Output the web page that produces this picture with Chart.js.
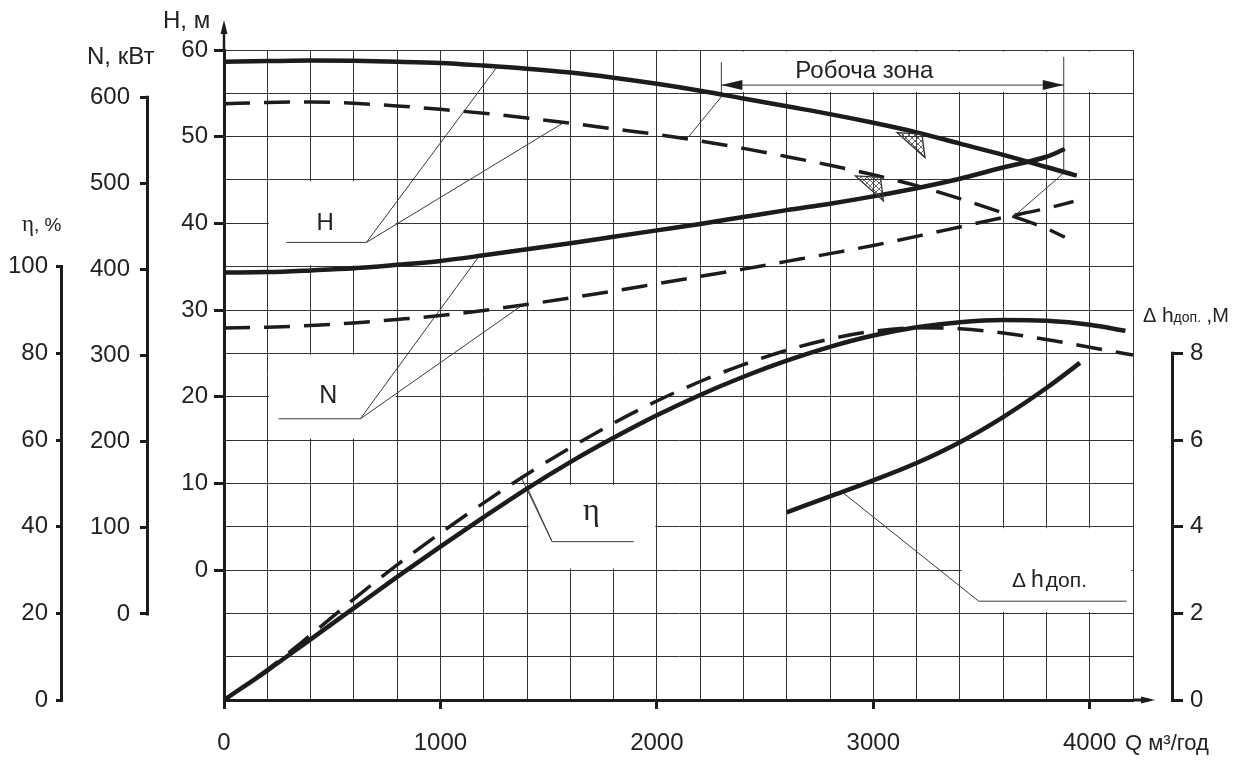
<!DOCTYPE html>
<html lang="uk">
<head>
<meta charset="utf-8">
<title>Характеристика насоса</title>
<script src="https://cdn.jsdelivr.net/npm/chart.js@4.4.1/dist/chart.umd.min.js"></script>
<style>
  html, body { margin: 0; padding: 0; background: #fff; }
  #wrap { width: 1242px; height: 760px; }
</style>
</head>
<body>
<div id="wrap"><canvas id="pump" width="1242" height="760"></canvas></div>
<script>
// Q, м3/год for each curve
const qHeadSolid = [0, 200, 400, 600, 800, 1000, 1200, 1400, 1600, 1800, 2000, 2200, 2400, 2600, 2800, 3000, 3200, 3400, 3600, 3800, 3940];
const headSolid  = [58.65, 58.72, 58.78, 58.75, 58.65, 58.5, 58.2, 57.85, 57.4, 56.8, 56.1, 55.3, 54.4, 53.5, 52.6, 51.6, 50.5, 49.2, 47.9, 46.5, 45.5];

const qHeadDash = [0, 200, 400, 600, 800, 1000, 1200, 1400, 1600, 1800, 2000, 2200, 2400, 2600, 2800, 3000, 3200, 3400, 3600, 3800, 3885];
const headDash  = [53.8, 53.95, 54.0, 53.85, 53.55, 53.15, 52.7, 52.15, 51.55, 50.9, 50.25, 49.5, 48.65, 47.7, 46.7, 45.6, 44.35, 42.85, 41.2, 39.4, 38.4];

const qPowerSolid = [0, 200, 400, 600, 800, 1000, 1200, 1400, 1600, 1800, 2000, 2200, 2400, 2600, 2800, 3000, 3200, 3400, 3600, 3800, 3885];
const powerSolid  = [396.5, 397, 399, 401.5, 405.5, 410, 416.5, 423.5, 430.5, 438, 445.5, 453, 461, 469, 476.5, 485, 494.5, 505.5, 518.5, 531, 540];

const qPowerDash = [0, 200, 400, 600, 800, 1000, 1200, 1400, 1600, 1800, 2000, 2200, 2400, 2600, 2800, 3000, 3200, 3400, 3600, 3800, 3925];
const powerDash  = [332, 333, 335, 338, 342, 346.5, 352.5, 359.5, 367, 375, 383.5, 392, 400.5, 409.5, 418.5, 428, 438.5, 449.5, 460.5, 471, 479];

const qEffSolid = [0, 200, 400, 600, 800, 1000, 1200, 1400, 1600, 1800, 2000, 2200, 2400, 2600, 2800, 3000, 3200, 3400, 3600, 3800, 4000, 4165];
const effSolid  = [0, 6.8, 14, 21.2, 28.4, 35.4, 42.2, 48.8, 54.9, 60.5, 65.7, 70.4, 74.6, 78.3, 81.5, 84.1, 86.0, 87.2, 87.7, 87.5, 86.6, 85.2];

const qEffDash = [0, 200, 400, 600, 800, 1000, 1200, 1400, 1600, 1800, 2000, 2200, 2400, 2600, 2800, 3000, 3200, 3400, 3600, 3800, 4000, 4200];
const effDash  = [0, 7, 15, 23.3, 31.2, 38.5, 45.5, 52.1, 58.2, 63.9, 69.0, 73.5, 77.4, 80.7, 83.3, 85.1, 85.9, 85.7, 84.7, 83.2, 81.4, 79.6];

const qNpsh   = [2600, 2800, 3000, 3200, 3400, 3600, 3800, 3955];
const npshReq = [4.33, 4.7, 5.07, 5.47, 5.95, 6.53, 7.2, 7.78];

// tick labels
const qTickLabels = [0, 1000, 2000, 3000, 4000];
const headTicks = [0, 10, 20, 30, 40, 50, 60];
const powerTicks = [0, 100, 200, 300, 400, 500, 600];
const effTicks = [0, 20, 40, 60, 80, 100];
const npshTicks = [0, 2, 4, 6, 8];

const INK = '#1c1c1c';
const GRID = '#333';
const SANS = "'Liberation Sans', Arial, sans-serif";
const SERIF = "'Liberation Serif', 'DejaVu Serif', serif";

Chart.defaults.font.family = SANS;
Chart.defaults.font.size = 24;
Chart.defaults.color = '#222';

const zip = (xs, ys) => xs.map((x, i) => ({ x: x, y: ys[i] }));

function curve(label, q, v, axis, dashed) {
    return {
        label: label,
        data: zip(q, v),
        yAxisID: axis,
        borderColor: INK,
        borderWidth: dashed ? 3.5 : 4.5,
        borderDash: dashed ? [26, 14] : [],
        pointRadius: 0,
        cubicInterpolationMode: 'monotone',
        fill: false
    };
}

// side axes drawn as brackets: only tick marks from the library, line added later
function bracketAxis(position, min, max, weight, width, values, tickLength, padding) {
    return {
        type: 'linear',
        position: position,
        min: min,
        max: max,
        weight: weight,
        afterBuildTicks: s => { s.ticks = values.map(v => ({ value: v })); },
        afterFit: s => { s.width = width; },
        grid: { display: true, drawOnChartArea: false, drawTicks: true, tickLength: tickLength, tickWidth: 3, tickColor: INK },
        border: { display: false },
        ticks: { autoSkip: false, padding: padding, color: '#222' }
    };
}

// hatch pattern for the duty point marks
function hatchPattern(ctx) {
    const c = document.createElement('canvas');
    c.width = 6; c.height = 6;
    const p = c.getContext('2d');
    p.strokeStyle = '#444';
    p.lineWidth = 0.8;
    p.beginPath();
    p.moveTo(0, 0); p.lineTo(6, 6);
    p.moveTo(6, 0); p.lineTo(0, 6);
    p.stroke();
    return ctx.createPattern(c, 'repeat');
}

function arrowHead(ctx, tx, ty, dx, dy, len, half) {
    const bx = tx - dx * len, by = ty - dy * len;
    ctx.beginPath();
    ctx.moveTo(tx, ty);
    ctx.lineTo(bx - dy * half, by + dx * half);
    ctx.lineTo(bx + dy * half, by - dx * half);
    ctx.closePath();
    ctx.fill();
}

function textRuns(ctx, x, y, runs) {
    runs.forEach(([t, font, gap]) => {
        ctx.font = font;
        ctx.fillText(t, x, y);
        x += ctx.measureText(t).width + (gap || 0);
    });
}

const decor = {
    id: 'decor',
    beforeDatasetsDraw(chart) {
        const ctx = chart.ctx;
        const X = v => chart.scales.x.getPixelForValue(v);
        const Y = v => chart.scales.yH.getPixelForValue(v);
        ctx.save();
        // label boxes cut out of the grid: [q1, q2, h1, h2]
        ctx.fillStyle = '#fff';
        [[200, 800, 35, 45], [200, 800, 15, 25], [1400, 2000, 0, 10], [3400, 4200, -5, 5], [2200, 4200, 55, 60]]
            .forEach(([q1, q2, h1, h2]) => {
                ctx.fillRect(X(q1) + 1.5, Y(h2) + 1.5, X(q2) - X(q1) - 3, Y(h1) - Y(h2) - 3);
            });
        // leader lines (in Q / H units)
        const leaders = [
            [[288, 37.8], [658, 37.8], [1260, 58.0]], [[658, 37.8], [1568, 51.6]],
            [[253, 17.45], [630, 17.45], [1177, 36.15]], [[630, 17.45], [1392, 30.8]],
            [[1893, 3.27], [1516, 3.27], [1400, 9.6]], [[1516, 3.27], [1370, 10.85]],
            [[4170, -3.6], [3487, -3.6], [2856, 9.0]],
            [[2298, 58.6], [2298, 54.6], [2147, 50.0]],
            [[3880, 59.2], [3880, 45.8], [3665, 41.15]],
            [[2298, 55.95], [3880, 55.95]]
        ];
        ctx.strokeStyle = '#3a3a3a';
        ctx.lineWidth = 1;
        leaders.forEach(pts => {
            ctx.beginPath();
            pts.forEach(([q, h], i) => i ? ctx.lineTo(X(q), Y(h)) : ctx.moveTo(X(q), Y(h)));
            ctx.stroke();
        });
        ctx.restore();
    },
    afterDatasetsDraw(chart) {
        const ctx = chart.ctx;
        const X = v => chart.scales.x.getPixelForValue(v);
        const Y = v => chart.scales.yH.getPixelForValue(v);
        ctx.save();
        // working zone arrows
        ctx.fillStyle = INK;
        arrowHead(ctx, X(2298), Y(55.95), -1, 0, 21, 5);
        arrowHead(ctx, X(3880), Y(55.95), 1, 0, 21, 5);
        // hatched duty marks on the head curves
        const pat = hatchPattern(ctx);
        [[3225, 50.3], [3033, 45.3]].forEach(([q, h]) => {
            const ax = X(q), ay = Y(h);
            ctx.beginPath();
            ctx.moveTo(ax - 25, ay - 1.5);
            ctx.lineTo(ax, ay);
            ctx.lineTo(ax + 3, ay + 23.5);
            ctx.closePath();
            ctx.fillStyle = pat;
            ctx.fill();
            ctx.strokeStyle = '#333';
            ctx.lineWidth = 1.3;
            ctx.stroke();
        });
        ctx.restore();
    },
    afterDraw(chart) {
        const ctx = chart.ctx;
        const s = chart.scales;
        const area = chart.chartArea;
        const X = v => s.x.getPixelForValue(v);
        const Y = v => s.yH.getPixelForValue(v);
        ctx.save();
        ctx.strokeStyle = INK;
        ctx.fillStyle = INK;
        ctx.lineWidth = 3;
        // bracket axis lines
        const bracket = (x, sc, lo, hi) => {
            ctx.beginPath();
            ctx.moveTo(x, sc.getPixelForValue(lo) + 1.5);
            ctx.lineTo(x, sc.getPixelForValue(hi) - 1.5);
            ctx.stroke();
        };
        bracket(s.yEta.right - 1.5, s.yEta, 0, 100);
        bracket(s.yN.right - 1.5, s.yN, 0, 600);
        bracket(s.yDh.left + 1.5, s.yDh, 0, 8);
        // axis arrows
        ctx.lineWidth = 2.5;
        ctx.beginPath();
        ctx.moveTo(area.left, area.top);
        ctx.lineTo(area.left, area.top - 24);
        ctx.stroke();
        arrowHead(ctx, area.left, area.top - 30, 0, -1, 14, 3.5);
        ctx.lineWidth = 3;
        ctx.beginPath();
        ctx.moveTo(area.right, area.bottom);
        ctx.lineTo(area.right + 16, area.bottom);
        ctx.stroke();
        arrowHead(ctx, area.right + 22, area.bottom, 1, 0, 14, 3.5);

        // axis titles
        ctx.fillStyle = '#222';
        ctx.textBaseline = 'alphabetic';
        ctx.textAlign = 'left';
        textRuns(ctx, 163, 28, [['H, м', '24px ' + SANS]]);
        textRuns(ctx, 87, 64, [['N, кВт', '24px ' + SANS]]);
        textRuns(ctx, 22, 231, [['η', '23px ' + SERIF], [', %', '19px ' + SANS]]);
        textRuns(ctx, 1143, 322, [['Δ ', '20px ' + SANS], ['h', '21px ' + SANS], ['доп.', '14px ' + SANS], [' ,М', '20px ' + SANS]]);
        textRuns(ctx, 1125, 750, [['Q м³/год', '22px ' + SANS]]);

        // curve labels inside the boxes
        ctx.textAlign = 'center';
        ctx.textBaseline = 'middle';
        ctx.font = '24px ' + SANS;
        ctx.fillText('H', X(468), Y(40));
        ctx.font = '25px ' + SANS;
        ctx.fillText('N', X(482), Y(20.1));
        ctx.textBaseline = 'alphabetic';
        ctx.font = '32px ' + SERIF;
        ctx.fillText('η', X(1697), Y(5.77));
        ctx.textAlign = 'left';
        textRuns(ctx, X(3641), Y(-1.96), [['Δ', '21px ' + SANS, 5], ['h', '23px ' + SANS, 2], ['доп.', '21px ' + SANS]]);
        ctx.textBaseline = 'middle';
        ctx.font = '24px ' + SANS;
        ctx.fillText('Робоча зона', X(2640), Y(57.5));
        ctx.restore();
    }
};

new Chart(document.getElementById('pump'), {
    type: 'line',
    data: {
        datasets: [
            curve('H', qHeadSolid, headSolid, 'yH', false),
            curve('H (2)', qHeadDash, headDash, 'yH', true),
            curve('N', qPowerSolid, powerSolid, 'yN', false),
            curve('N (2)', qPowerDash, powerDash, 'yN', true),
            curve('η', qEffSolid, effSolid, 'yEta', false),
            curve('η (2)', qEffDash, effDash, 'yEta', true),
            curve('Δh доп.', qNpsh, npshReq, 'yDh', false)
        ]
    },
    options: {
        responsive: false,
        animation: false,
        events: [],
        devicePixelRatio: 1,
        layout: { padding: { top: 50, left: 0, right: 0, bottom: 0 } },
        plugins: { legend: { display: false }, tooltip: { enabled: false } },
        scales: {
            x: {
                type: 'linear',
                position: 'bottom',
                min: 0,
                max: 4200,
                afterFit: s => { s.height = 60; },
                ticks: {
                    stepSize: 200,
                    maxTicksLimit: 100,
                    autoSkip: false,
                    maxRotation: 0,
                    minRotation: 0,
                    padding: 20,
                    callback: v => qTickLabels.includes(v) ? String(v) : ''
                },
                grid: {
                    color: GRID,
                    lineWidth: 1,
                    tickLength: 9,
                    tickWidth: 3,
                    tickColor: c => qTickLabels.includes(c.tick && c.tick.value) ? INK : 'rgba(0,0,0,0)'
                },
                border: { display: true, width: 3, color: INK }
            },
            yH: {
                type: 'linear',
                position: 'left',
                min: -15,
                max: 60,
                weight: 1,
                afterFit: s => { s.width = 75; },
                ticks: {
                    stepSize: 5,
                    maxTicksLimit: 100,
                    autoSkip: false,
                    padding: 6,
                    callback: v => headTicks.includes(v) ? String(v) : ''
                },
                grid: {
                    color: GRID,
                    lineWidth: 1,
                    tickLength: 10,
                    tickWidth: 3,
                    tickColor: c => headTicks.includes(c.tick && c.tick.value) ? INK : 'rgba(0,0,0,0)'
                },
                border: { display: true, width: 3, color: INK }
            },
            yN: bracketAxis('left', -100, 655, 2, 86, powerTicks, 9, 10),
            yEta: bracketAxis('left', 0, 150, 3, 63, effTicks, 7, 8),
            gap: {
                type: 'linear',
                position: 'right',
                min: 0,
                max: 1,
                weight: 1,
                afterFit: s => { s.width = 38; },
                grid: { display: false },
                ticks: { display: false },
                border: { display: false }
            },
            yDh: bracketAxis('right', 0, 15, 2, 71, npshTicks, 12, 7)
        }
    },
    plugins: [decor]
});
</script>
</body>
</html>
